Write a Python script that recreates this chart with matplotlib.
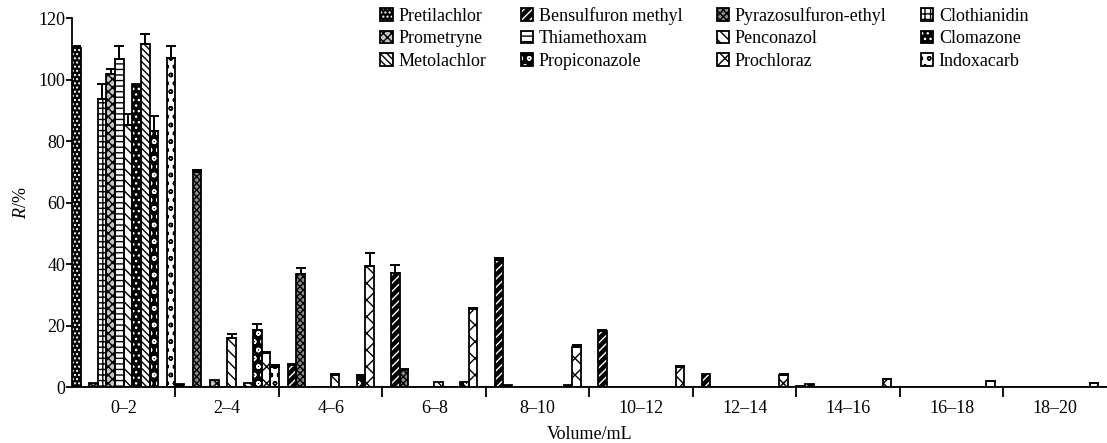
#!/usr/bin/env python3

"""
Recovery of 12 pesticides per elution volume fraction (grouped hatched bars).
"""

import matplotlib
matplotlib.use("Agg")
import matplotlib.pyplot as plt
from matplotlib.patches import Patch
import numpy as np

plt.rcParams["font.family"] = ["Liberation Serif", "DejaVu Serif"]
plt.rcParams["mathtext.fontset"] = "custom"
plt.rcParams["mathtext.rm"] = "Liberation Serif"
plt.rcParams["mathtext.it"] = "Liberation Serif:italic"
plt.rcParams["hatch.linewidth"] = 1.0

volumes = ["0–2", "2–4", "4–6", "6–8", "8–10",
           "10–12", "12–14", "14–16", "16–18", "18–20"]

names = ["Pretilachlor", "Bensulfuron methyl", "Pyrazosulfuron-ethyl", "Clothianidin",
         "Prometryne", "Thiamethoxam", "Penconazol", "Clomazone",
         "Metolachlor", "Propiconazole", "Prochloraz", "Indoxacarb"]

pretilachlor = [110.2, 1.0, 0, 0, 0, 0, 0, 0.3, 0, 0]
bensulfuron = [0, 0, 7.2, 37.2, 41.3, 18.2, 4.3, 1.0, 0, 0]
pyrazosulfuron = [1.3, 70.0, 36.7, 5.5, 0.8, 0, 0, 0, 0, 0]
clothianidin = [93.7, 0, 0, 0, 0, 0, 0, 0, 0, 0]
prometryne = [101.8, 2.3, 0, 0, 0, 0, 0, 0, 0, 0]
thiamethoxam = [106.6, 0, 0, 0, 0, 0, 0, 0, 0, 0]
penconazol = [85.2, 15.8, 3.9, 1.6, 0, 0, 0, 0, 0, 0]
clomazone = [98.5, 0, 0, 0, 0, 0, 0, 0, 0, 0]
metolachlor = [111.5, 1.2, 0, 0, 0, 0, 0, 0, 0, 0]
propiconazole = [83.3, 18.5, 3.1, 1.6, 0.5, 0, 0, 0, 0, 0]
prochloraz = [0, 11.0, 39.3, 25.5, 13.1, 6.4, 3.9, 2.5, 1.9, 1.2]
indoxacarb = [107.1, 6.4, 0, 0, 0, 0, 0, 0, 0, 0]

err_pretilachlor = [0.8, 0, 0, 0, 0, 0, 0, 0, 0, 0]
err_bensulfuron = [0, 0, 0.3, 2.5, 0.6, 0.4, 0, 0, 0, 0]
err_pyrazosulfuron = [0, 0.5, 2.1, 0.3, 0, 0, 0, 0, 0, 0]
err_clothianidin = [4.8, 0, 0, 0, 0, 0, 0, 0, 0, 0]
err_prometryne = [1.8, 0, 0, 0, 0, 0, 0, 0, 0, 0]
err_thiamethoxam = [4.4, 0, 0, 0, 0, 0, 0, 0, 0, 0]
err_penconazol = [3.6, 1.4, 0.3, 0, 0, 0, 0, 0, 0, 0]
err_clomazone = [0, 0, 0, 0, 0, 0, 0, 0, 0, 0]
err_metolachlor = [3.5, 0, 0, 0, 0, 0, 0, 0, 0, 0]
err_propiconazole = [4.9, 1.9, 0.8, 0, 0, 0, 0, 0, 0, 0]
err_prochloraz = [0, 0.5, 4.4, 0.3, 0.5, 0.3, 0.3, 0.2, 0.2, 0.2]
err_indoxacarb = [3.9, 0.6, 0, 0, 0, 0, 0, 0, 0, 0]

values = [pretilachlor, bensulfuron, pyrazosulfuron, clothianidin,
          prometryne, thiamethoxam, penconazol, clomazone,
          metolachlor, propiconazole, prochloraz, indoxacarb]
errors = [err_pretilachlor, err_bensulfuron, err_pyrazosulfuron, err_clothianidin,
          err_prometryne, err_thiamethoxam, err_penconazol, err_clomazone,
          err_metolachlor, err_propiconazole, err_prochloraz, err_indoxacarb]

# (face colour, hatch, hatch colour)
styles = [("black", "....", "white"),
          ("black", "////", "white"),
          ("#8a8a8a", "xxxxx", "black"),
          ("white", "+++", "black"),
          ("#c4c4c4", "xxxx", "black"),
          ("white", "---", "black"),
          ("white", "\\\\\\", "black"),
          ("black", "...", "white"),
          ("white", "\\\\\\\\\\", "black"),
          ("black", "oo", "white"),
          ("white", "xx", "black"),
          ("white", "oo", "black")]

n = len(names)
w = 1.0 / n
x = np.arange(len(volumes))

fig = plt.figure(figsize=(11.07, 4.43), dpi=100)
ax = fig.add_axes([0.065, 0.1264, 0.935, 0.8326])

handles = []
for i in range(n):
    face, hatch, hcol = styles[i]
    pos = x - 0.5 + (i + 0.5) * w
    ax.bar(pos, values[i], width=w, color=face, edgecolor=hcol,
           hatch=hatch, linewidth=0, zorder=2)
    ax.bar(pos, values[i], width=w, fill=False, edgecolor="black",
           linewidth=1.3, zorder=3)
    err = np.array(errors[i])
    mask = err > 0
    ax.errorbar(pos[mask], np.array(values[i])[mask],
                yerr=[np.zeros(mask.sum()), err[mask]],
                fmt="none", ecolor="black", elinewidth=1.4,
                capsize=3.3, capthick=1.4, zorder=4)
    handles.append((Patch(facecolor=face, edgecolor=hcol, hatch=hatch, linewidth=0),
                    Patch(fill=False, edgecolor="black", linewidth=1.3)))

ax.set_xlim(-0.5, len(volumes) - 0.5)
ax.set_ylim(0, 120)
ax.set_yticks(range(0, 121, 20))
ax.set_xticks(x)
ax.set_xticklabels(volumes)
ax.set_xticks(x[:-1] + 0.5, minor=True)
ax.tick_params(axis="x", which="major", length=0, pad=9, labelsize=13)
ax.tick_params(axis="x", which="minor", length=7, width=1.3, direction="out")
ax.tick_params(axis="y", length=4, width=1.3, pad=1, labelsize=13)
for s in ["top", "right"]:
    ax.spines[s].set_visible(False)
for s in ["left", "bottom"]:
    ax.spines[s].set_linewidth(1.3)

ax.set_xlabel("Volume/mL", fontsize=13, labelpad=7)
ax.set_ylabel("$R$/%", fontsize=13, labelpad=6)

# legend is filled column by column, so reorder to read row by row
order = [r * 4 + c for c in range(4) for r in range(3)]
fig.legend([handles[k] for k in order], [names[k] for k in order],
           ncol=4, loc="upper left",
           bbox_to_anchor=(0.329, 1.021), frameon=False, fontsize=13,
           handlelength=0.7, handleheight=0.7, handletextpad=0.3,
           columnspacing=1.9, labelspacing=0.3)

fig.savefig("out.png", dpi=100)
